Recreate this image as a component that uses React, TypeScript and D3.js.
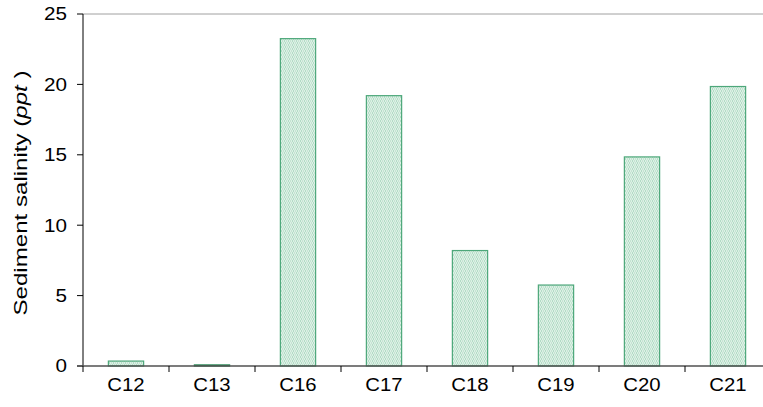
import React from "react";
import * as d3 from "d3";

const categories = ["C12", "C13", "C16", "C17", "C18", "C19", "C20", "C21"];
const salinity = [0.35, 0.08, 23.25, 19.2, 8.2, 5.75, 14.85, 19.85];
const yTicks = [0, 5, 10, 15, 20, 25];

const W = 763;
const H = 407;
const left = 83;
const right = 771;
const top = 14;
const bottom = 366;

export default function App() {
  const x = d3.scaleBand<string>().domain(categories).range([left, right]).paddingInner(0).paddingOuter(0);
  const y = d3.scaleLinear().domain([0, 25]).range([bottom, top]);
  const bw = x.bandwidth();
  const barW = bw * 0.41;
  const font = "'Liberation Sans', Arial, sans-serif";
  const boundaries = categories.map((c) => x(c)!).concat([right]);
  return (
    <svg width={W} height={H} style={{ position: "absolute", left: 0, top: 0 }}>
      <defs>
        <pattern id="hatch" width="4" height="4" patternUnits="userSpaceOnUse">
          <rect width="4" height="4" fill="#dcf0e5" />
          <rect x="0" y="0" width="1" height="2" fill="#b3dcc6" />
          <rect x="1" y="2" width="1" height="2" fill="#b3dcc6" />
          <rect x="2" y="0" width="1" height="2" fill="#c4e4d2" />
          <rect x="3" y="2" width="1" height="2" fill="#c4e4d2" />
        </pattern>
      </defs>
      <rect x={0} y={0} width={W} height={H} fill="#fff" />
      <line x1={left} x2={W} y1={top} y2={top} stroke="#a0a0a0" strokeWidth={1} />
      {categories.map((c, i) => {
        const cx = x(c)! + bw / 2;
        const yv = y(salinity[i]);
        const h = bottom - yv;
        return (
          <rect
            key={c}
            x={cx - barW / 2}
            y={yv}
            width={barW}
            height={Math.max(h, 1)}
            fill="url(#hatch)"
            stroke={h < 2 ? "#2e8a5a" : "#4da77a"}
            strokeWidth={1.2}
          />
        );
      })}
      <line x1={left} x2={left} y1={top} y2={bottom} stroke="#000" strokeWidth={1} />
      {yTicks.map((t) => (
        <g key={t}>
          <line x1={left - 6} x2={left} y1={y(t)} y2={y(t)} stroke="#000" />
          <text
            transform={`translate(${left - 16}, ${y(t)}) scale(1.18, 1)`}
            dy="0.36em"
            textAnchor="end"
            fontFamily={font}
            fontSize={17.5}
            fill="#000"
          >
            {t}
          </text>
        </g>
      ))}
      <line x1={left - 6} x2={W} y1={bottom} y2={bottom} stroke="#505050" strokeWidth={1.5} />
      {boundaries.map((b, i) => (
        <line key={i} x1={b} x2={b} y1={bottom} y2={bottom + 6} stroke="#000" />
      ))}
      {categories.map((c) => (
        <text
          key={c}
          transform={`translate(${x(c)! + bw / 2}, 391) scale(1.13, 1)`}
          textAnchor="middle"
          fontFamily={font}
          fontSize={18}
          fill="#000"
        >
          {c}
        </text>
      ))}
      <text
        transform={`translate(27, 193) rotate(-90)`}
        textAnchor="middle"
        fontFamily={font}
        fontSize={19}
        fill="#000"
        textLength={245}
        lengthAdjust="spacingAndGlyphs"
      >
        Sediment salinity (<tspan fontStyle="italic">ppt</tspan> )
      </text>
    </svg>
  );
}
